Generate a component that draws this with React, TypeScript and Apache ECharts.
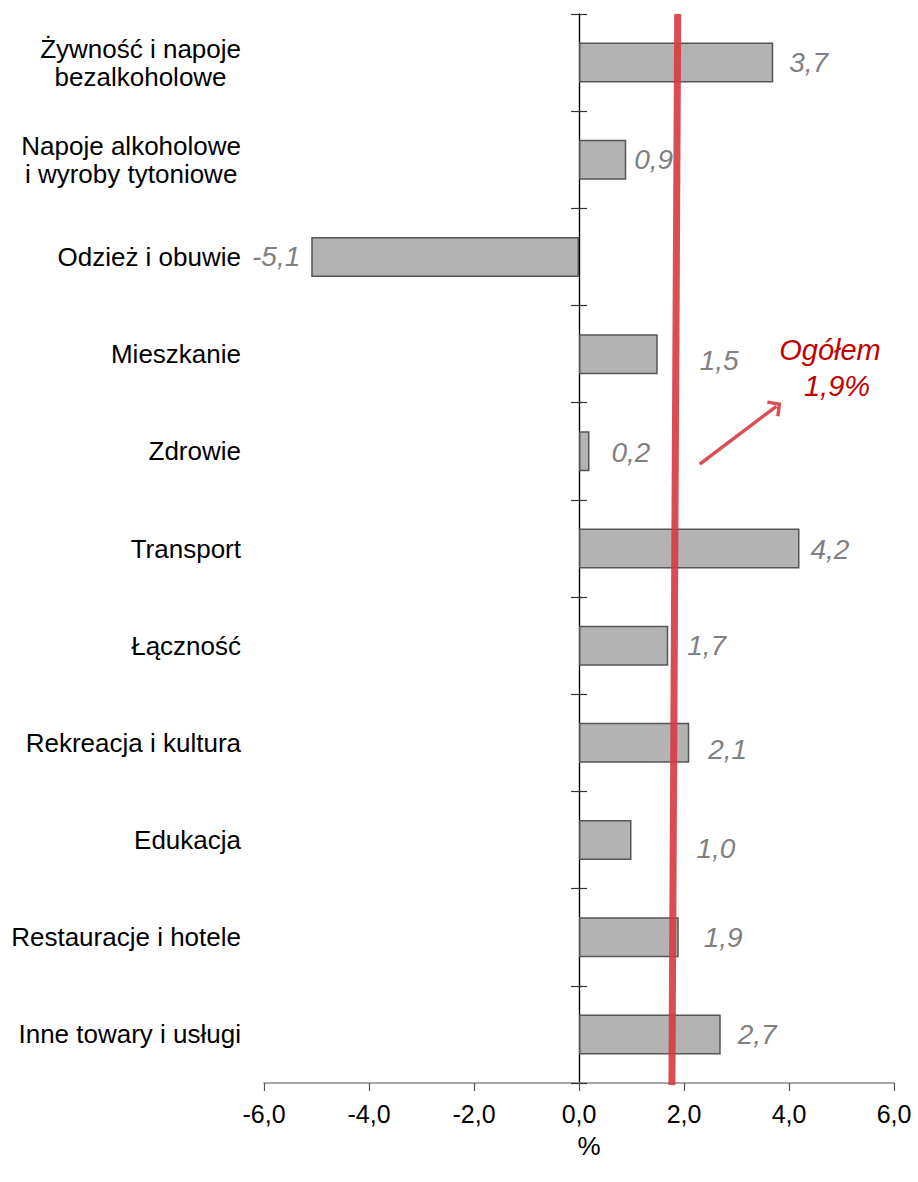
import React, { useEffect, useRef } from "react";
import * as echarts from "echarts";

const categories = [
  "Żywność i napoje\nbezalkoholowe",
  "Napoje alkoholowe\ni wyroby tytoniowe",
  "Odzież i obuwie",
  "Mieszkanie",
  "Zdrowie",
  "Transport",
  "Łączność",
  "Rekreacja i kultura",
  "Edukacja",
  "Restauracje i hotele",
  "Inne towary i usługi",
];
const values = [3.7, 0.9, -5.1, 1.5, 0.2, 4.2, 1.7, 2.1, 1.0, 1.9, 2.7];
const xMin = -6;
const xMax = 6;
const xInterval = 2;
const overallValue = "1,9%";
const overallLabel = "Ogółem";
// red reference line: x value at top and bottom of the plot (hidden 0..1 axis)
const overallLine = [
  [1.88, 1],
  [1.77, -0.002],
];
// annotation arrow, same coordinate system
const arrowLine = [
  [2.3, 0.579],
  [3.76, 0.633],
];
// manual label nudges (px) as in the original layout
const labelDx = [16, 8, -11, 42, 22, 11, 19, 19, 65, 25, 17];
const labelDy = [0, 0, 0, 6, 1, 1, 0, 7, 8, 0, 0];

const FONT = "'Liberation Sans', Arial, Helvetica, sans-serif";
const RED = "#d63a40";

const fmt = (v: number) => v.toFixed(1).replace(".", ",");

export default function App() {
  const ref = useRef<HTMLDivElement>(null);
  useEffect(() => {
    if (!ref.current) return;
    const chart = echarts.init(ref.current, undefined, { renderer: "svg" });
    const barData = values.map((v, i) => ({
      value: v,
      label: {
        position: v < 0 ? "left" : "right",
        offset: [labelDx[i], labelDy[i]],
      },
    }));
    const catBase = {
      type: "category",
      data: categories,
      inverse: true,
      position: "left",
    };
    chart.setOption({
      animation: false,
      grid: { left: 264, right: 24, top: 14, bottom: 99, containLabel: false },
      xAxis: [
        {
          type: "value",
          min: xMin,
          max: xMax,
          interval: xInterval,
          splitLine: { show: false },
          axisLine: { show: true, lineStyle: { color: "#8a8a8a", width: 1.5 } },
          axisTick: { show: true, length: 8, lineStyle: { color: "#555", width: 1.2 } },
          axisLabel: {
            margin: 18,
            fontSize: 25,
            color: "#000",
            fontFamily: FONT,
            formatter: (v: number) => fmt(v),
          },
          name: "%",
          nameLocation: "middle",
          nameGap: 50,
          nameTextStyle: {
            fontSize: 26,
            color: "#000",
            fontFamily: FONT,
            padding: [0, 0, 0, 20],
          },
        },
        {
          type: "value",
          min: xMin,
          max: xMax,
          interval: xInterval,
          position: "top",
          splitLine: { show: false },
          axisLine: { show: false, onZero: false },
          axisTick: { show: false },
          axisLabel: { show: false },
        },
      ],
      yAxis: [
        {
          ...catBase,
          axisLine: { show: false, onZero: false },
          axisTick: { show: false },
          axisLabel: {
            margin: 23,
            formatter: (v: string) =>
              v
                .split("\n")
                .map((l) => `{c|${l}}`)
                .join("\n"),
            rich: {
              c: {
                align: "center",
                fontSize: 26,
                lineHeight: 28,
                color: "#000",
                fontFamily: FONT,
              },
            },
          },
        },
        {
          ...catBase,
          axisLine: {
            show: true,
            onZero: true,
            onZeroAxisIndex: 0,
            lineStyle: { color: "#000", width: 1.2 },
          },
          axisTick: { show: true, length: 8, lineStyle: { color: "#333", width: 1.2 } },
          axisLabel: { show: false },
        },
        {
          ...catBase,
          axisLine: {
            show: true,
            onZero: true,
            onZeroAxisIndex: 1,
            lineStyle: { color: "#000", width: 1.2 },
          },
          axisTick: { show: true, inside: true, length: 8, lineStyle: { color: "#333", width: 1.2 } },
          axisLabel: { show: false },
        },
        {
          type: "value",
          min: 0,
          max: 1,
          show: false,
        },
      ],
      series: [
        {
          type: "bar",
          xAxisIndex: 0,
          yAxisIndex: 0,
          data: barData,
          barWidth: 40,
          itemStyle: { color: "#b3b3b3", borderColor: "#555", borderWidth: 1.5 },
          label: {
            show: true,
            distance: 0,
            fontSize: 28,
            fontStyle: "italic",
            color: "#808080",
            fontFamily: FONT,
            formatter: (p: any) => fmt(p.value),
          },
          silent: true,
        },
        {
          type: "line",
          xAxisIndex: 0,
          yAxisIndex: 3,
          data: overallLine,
          symbol: "none",
          clip: false,
          z: 5,
          silent: true,
          lineStyle: { color: RED, width: 7, opacity: 0.9 },
          markLine: {
            silent: true,
            symbol: ["none", "path://M10,0 L20,9.5 L17.6,12 L10,4.6 L2.4,12 L0,9.5 Z"],
            symbolSize: [20, 12],
            label: { show: false },
            lineStyle: { color: RED, width: 3.5, type: "solid", opacity: 0.9 },
            data: [[{ coord: arrowLine[0] }, { coord: arrowLine[1] }]],
          },
        },
      ],
      graphic: [
        {
          type: "text",
          x: 830,
          y: 350,
          style: {
            text: overallLabel,
            fill: "#c00000",
            font: `italic 29px ${FONT}`,
            textAlign: "center",
            textVerticalAlign: "middle",
          },
        },
        {
          type: "text",
          x: 837,
          y: 386,
          style: {
            text: overallValue,
            fill: "#c00000",
            font: `italic 29px ${FONT}`,
            textAlign: "center",
            textVerticalAlign: "middle",
          },
        },
      ],
    });
    return () => chart.dispose();
  }, []);
  return (
    <div
      ref={ref}
      style={{ position: "fixed", left: 0, top: 0, width: 918, height: 1182, background: "#fff" }}
    />
  );
}
